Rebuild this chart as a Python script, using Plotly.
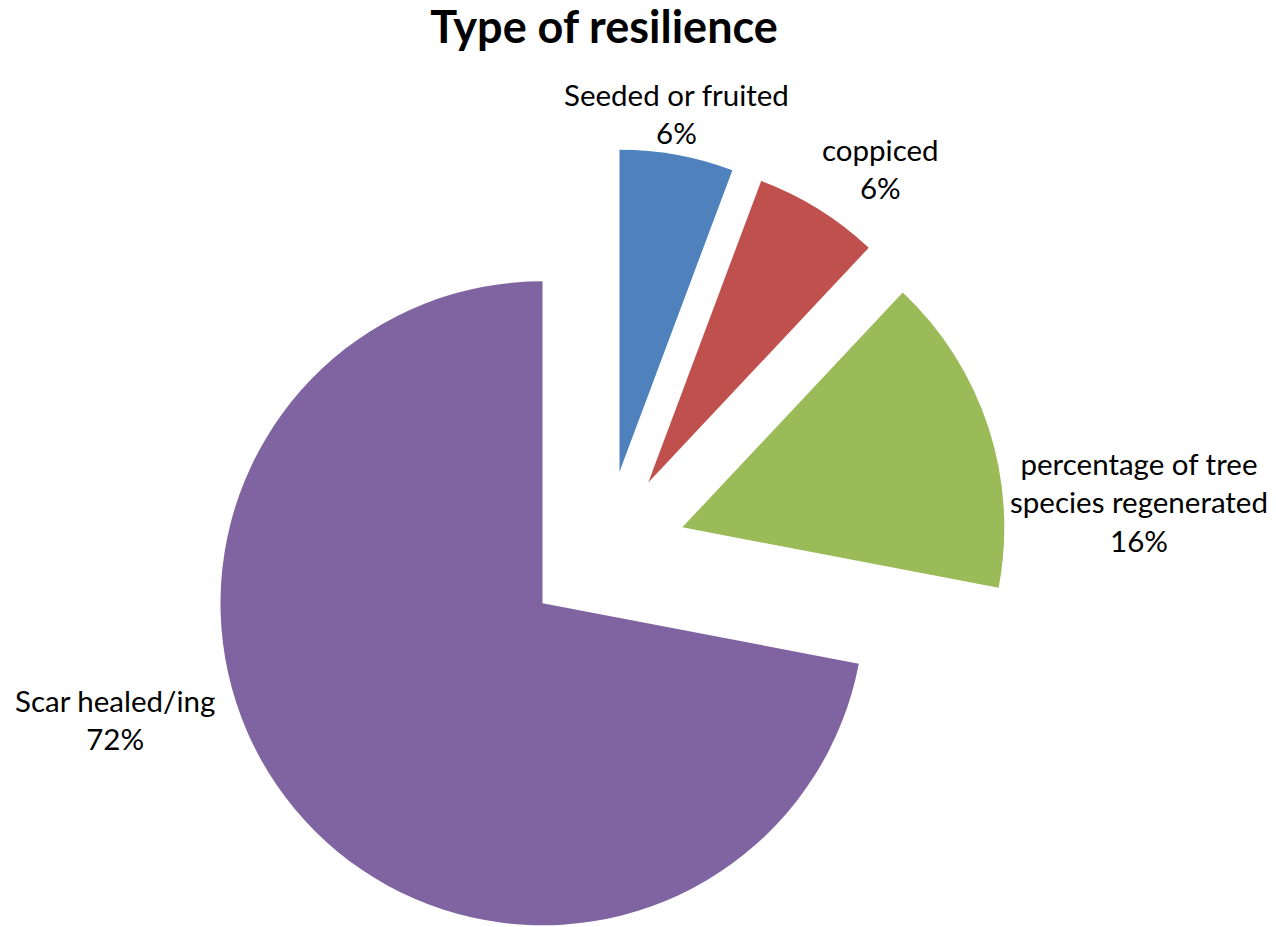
import plotly.graph_objects as go

# Share of each resilience type (percent of observations)
categories = ["Seeded or fruited", "coppiced",
              "percentage of tree species regenerated", "Scar healed/ing"]
values = [5.7, 6.3, 16.0, 72.0]
colors = ["#4F81BD", "#C0504D", "#9BBB59", "#8064A2"]

# Label text split over lines as it appears beside each wedge
label_lines = [["Seeded or fruited"], ["coppiced"],
               ["percentage of tree", "species regenerated"], ["Scar healed/ing"]]

W, H = 1276, 927
R = 322  # wedge radius in px

# Wedge apex (exploded centre) in px for each slice
apex = [(619.5, 471.8), (648.3, 482.5), (682.3, 527.3), (542.5, 603.3)]
# Label block centres in px
label_pos = [(676, 114), (880, 168), (1139, 502), (115, 719)]

FONT = "Lato"

fig = go.Figure()
total = sum(values)
for i, (cx, cy) in enumerate(apex):
    # each wedge is drawn as its own pie so it can sit at its own exploded offset
    slice_colors = [colors[j] if j == i else "rgba(0,0,0,0)" for j in range(len(values))]
    fig.add_trace(go.Pie(
        labels=categories,
        values=values,
        sort=False,
        direction="clockwise",
        rotation=0,
        marker=dict(colors=slice_colors, line=dict(width=0)),
        textinfo="none",
        hoverinfo="skip",
        showlegend=False,
        domain=dict(x=[(cx - R) / W, (cx + R) / W],
                    y=[1 - (cy + R) / H, 1 - (cy - R) / H]),
    ))

for i, (lx, ly) in enumerate(label_pos):
    pct = f"{round(values[i] / total * 100):.0f}%"
    text = "<br>".join(label_lines[i] + [pct])
    fig.add_annotation(
        x=lx / W, y=1 - ly / H, xref="paper", yref="paper",
        text=text, showarrow=False, xanchor="center", yanchor="middle",
        align="center", font=dict(family=FONT, size=29.5, color="#000000"),
    )

fig.update_layout(
    width=W, height=H,
    margin=dict(l=0, r=0, t=0, b=0),
    paper_bgcolor="white", plot_bgcolor="white",
    title=dict(text="<b>Type of resilience</b>", x=604 / W, xanchor="center",
               y=1 - 27 / H, yanchor="middle",
               font=dict(family=FONT, size=45, color="#000000")),
)

fig.write_html("out.html")
